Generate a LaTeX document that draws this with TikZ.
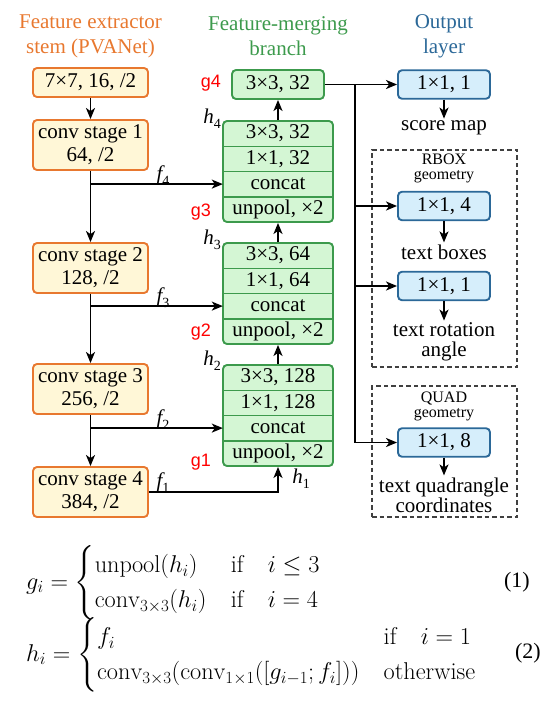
\RequirePackage{fix-cm}
\documentclass[tikz,border=0pt]{standalone}
\usepackage{amsmath}
\usepackage{fontspec}
\newfontfamily\tnr{Liberation Serif}
\newfontfamily\arial{Liberation Sans}
\usetikzlibrary{arrows.meta}
\definecolor{ocol}{HTML}{E8782F}
\definecolor{ofill}{HTML}{FFF7D7}
\definecolor{gcol}{HTML}{3C9A4C}
\definecolor{gfill}{HTML}{D4F6D4}
\definecolor{bcol}{HTML}{2B6898}
\definecolor{bfill}{HTML}{D6EEFB}
\newcommand{\bx}{\tnr\fontsize{21}{22}\selectfont}
\newcommand{\fl}[2]{{\itshape #1}\raisebox{-5pt}{\fontsize{14}{14}\selectfont #2}}
\begin{document}
\begin{tikzpicture}[x=1pt,y=-1pt,
 every node/.style={font=\bx, inner sep=0pt},
 obox/.style={draw=ocol, fill=ofill, line width=1.9pt, rounded corners=4pt, minimum width=115pt, align=center, font=\tnr\fontsize{21}{23}\selectfont},
 gbg/.style={draw=gcol, fill=gfill, line width=1.9pt, rounded corners=4pt, minimum width=110pt},
 gcell/.style={minimum width=110pt, minimum height=25.25pt},
 gsep/.style={draw=gcol, line width=1.4pt},
 bbox/.style={draw=bcol, fill=bfill, line width=1.9pt, rounded corners=4pt, minimum width=92pt, minimum height=28.5pt},
 arr/.style={-{Stealth[length=11pt,width=9pt,inset=3pt]}, line width=1.7pt},
 dbox/.style={draw=black!75, dash pattern=on 4.5pt off 3pt, line width=1.3pt},
 glab/.style={font=\arial\fontsize{18}{18}\selectfont, text=red},
 small/.style={font=\tnr\fontsize{16}{15}\selectfont, align=center},
 ttl/.style={align=center, font=\tnr\fontsize{21}{25}\selectfont},
 lab/.style={inner sep=2pt},
 two/.style={align=center, inner sep=2pt, font=\tnr\fontsize{21}{20}\selectfont}
]
\useasboundingbox (0,0) rectangle (551,702);

% titles
\node[ttl, text=ocol] (t1) at (90.5,36) {Feature extractor\\stem (PVANet)};
\node[ttl, text=gcol] (t2) at (278,36) {Feature-merging\\branch};
\node[ttl, text=bcol] (t3) at (444,36) {Output\\layer};

% stem
\node[obox, minimum height=29pt] (s0) at (90.5,82.5) {7×7, 16, /2};
\node[obox, minimum height=50pt] (s1) at (90.5,145) {conv stage 1\\64, /2};
\node[obox, minimum height=50pt] (s2) at (90.5,268) {conv stage 2\\128, /2};
\node[obox, minimum height=50pt] (s3) at (90.5,389) {conv stage 3\\256, /2};
\node[obox, minimum height=50pt] (s4) at (90.5,492) {conv stage 4\\384, /2};
\draw[arr] (s0) -- (s1);
\draw[arr] (s1) -- (s2);
\draw[arr] (s2) -- (s3);
\draw[arr] (s3) -- (s4);

% merging branch
\node[gbg, minimum height=29pt, minimum width=92pt] (g4) at (278,84.5) {3×3, 32};

\node[gbg, minimum height=101pt] (B4) at (278,171.5) {};
\node[gcell] (b4a) at (278,133.6) {3×3, 32};
\node[gcell] (b4b) at (278,158.9) {1×1, 32};
\node[gcell] (b4c) at (278,184.1) {concat};
\node[gcell] (b4d) at (278,209.4) {unpool, ×2};
\draw[gsep] (b4a.south west) -- (b4a.south east);
\draw[gsep] (b4b.south west) -- (b4b.south east);
\draw[gsep] (b4c.south west) -- (b4c.south east);

\node[gbg, minimum height=101pt] (B3) at (278,293.5) {};
\node[gcell] (b3a) at (278,255.6) {3×3, 64};
\node[gcell] (b3b) at (278,280.9) {1×1, 64};
\node[gcell] (b3c) at (278,306.1) {concat};
\node[gcell] (b3d) at (278,331.4) {unpool, ×2};
\draw[gsep] (b3a.south west) -- (b3a.south east);
\draw[gsep] (b3b.south west) -- (b3b.south east);
\draw[gsep] (b3c.south west) -- (b3c.south east);

\node[gbg, minimum height=101pt] (B2) at (278,415.5) {};
\node[gcell] (b2a) at (278,377.6) {3×3, 128};
\node[gcell] (b2b) at (278,402.9) {1×1, 128};
\node[gcell] (b2c) at (278,428.1) {concat};
\node[gcell] (b2d) at (278,453.4) {unpool, ×2};
\draw[gsep] (b2a.south west) -- (b2a.south east);
\draw[gsep] (b2b.south west) -- (b2b.south east);
\draw[gsep] (b2c.south west) -- (b2c.south east);

\draw[arr] (B4) -- (g4);
\draw[arr] (B3) -- (B4);
\draw[arr] (B2) -- (B3);

% skip connections
\draw[arr] (s1.south |- b4c.west) -- (b4c.west);
\draw[arr] (s2.south |- b3c.west) -- (b3c.west);
\draw[arr] (s3.south |- b2c.west) -- (b2c.west);
\draw[arr] (s4.east) -| (B2.south);

% labels
\node (f4) at (163,176) {\fl{f}{4}};
\node (f3) at (163,298) {\fl{f}{3}};
\node (f2) at (163,420) {\fl{f}{2}};
\node (f1) at (163,483) {\fl{f}{1}};
\node (h4) at (212,119) {\fl{h}{4}};
\node (h3) at (212,240) {\fl{h}{3}};
\node (h2) at (212,361) {\fl{h}{2}};
\node (h1) at (301,479) {\fl{h}{1}};
\node[glab] (lg4) at (211,83) {g4};
\node[glab] (lg3) at (201,212) {g3};
\node[glab] (lg2) at (201,332) {g2};
\node[glab] (lg1) at (201,462) {g1};

% output layer
\node[bbox] (o1) at (444,84.5) {1×1, 1};
\node[lab] (sm) at (444,128) {score map};
\draw[arr] (o1) -- (sm);

\node[dbox, minimum width=145pt, minimum height=217pt] (rb) at (444.5,258.5) {};
\node[small] (rbt) at (444,168) {RBOX\\geometry};
\node[bbox] (o2) at (444,206) {1×1, 4};
\node[lab] (tb) at (444,252) {text boxes};
\node[bbox] (o3) at (444,286) {1×1, 1};
\node[two] (tr) at (444,342) {text rotation\\angle};
\draw[arr] (o2) -- (tb);
\draw[arr] (o3) -- (tr);

\node[dbox, minimum width=145pt, minimum height=131pt] (qb) at (444.5,451.5) {};
\node[small] (qt) at (444,406) {QUAD\\geometry};
\node[bbox] (o4) at (444,442.5) {1×1, 8};
\node[two] (tq) at (444,495) {text quadrangle\\coordinates};
\draw[arr] (o4) -- (tq);

\coordinate (j) at (355,84.5);
\draw[arr] (g4) -- (o1);
\draw[arr] (j) |- (o4.west);
\draw[arr] (j |- o2.west) -- (o2.west);
\draw[arr] (j |- o3.west) -- (o3.west);

% equations
\node[anchor=west, font=\fontsize{24.3}{29}\selectfont] (eq1) at (26,583)
 {$g_i = \begin{cases}\mathrm{unpool}(h_i) & \text{if}\quad i \le 3\\ \mathrm{conv}_{3\times 3}(h_i) & \text{if}\quad i = 4\end{cases}$};
\node[anchor=east, font=\tnr\fontsize{22}{24}\selectfont] (n1) at (530,582) {(1)};
\node[anchor=west, font=\fontsize{24.3}{29}\selectfont] (eq2) at (26,655)
 {$h_i = \begin{cases}f_i & \text{if}\quad i = 1\\ \mathrm{conv}_{3\times 3}(\mathrm{conv}_{1\times 1}([g_{i-1}; f_i])) & \text{otherwise}\end{cases}$};
\node[anchor=east, font=\tnr\fontsize{22}{24}\selectfont] (n2) at (541,653) {(2)};
\end{tikzpicture}
\end{document}
